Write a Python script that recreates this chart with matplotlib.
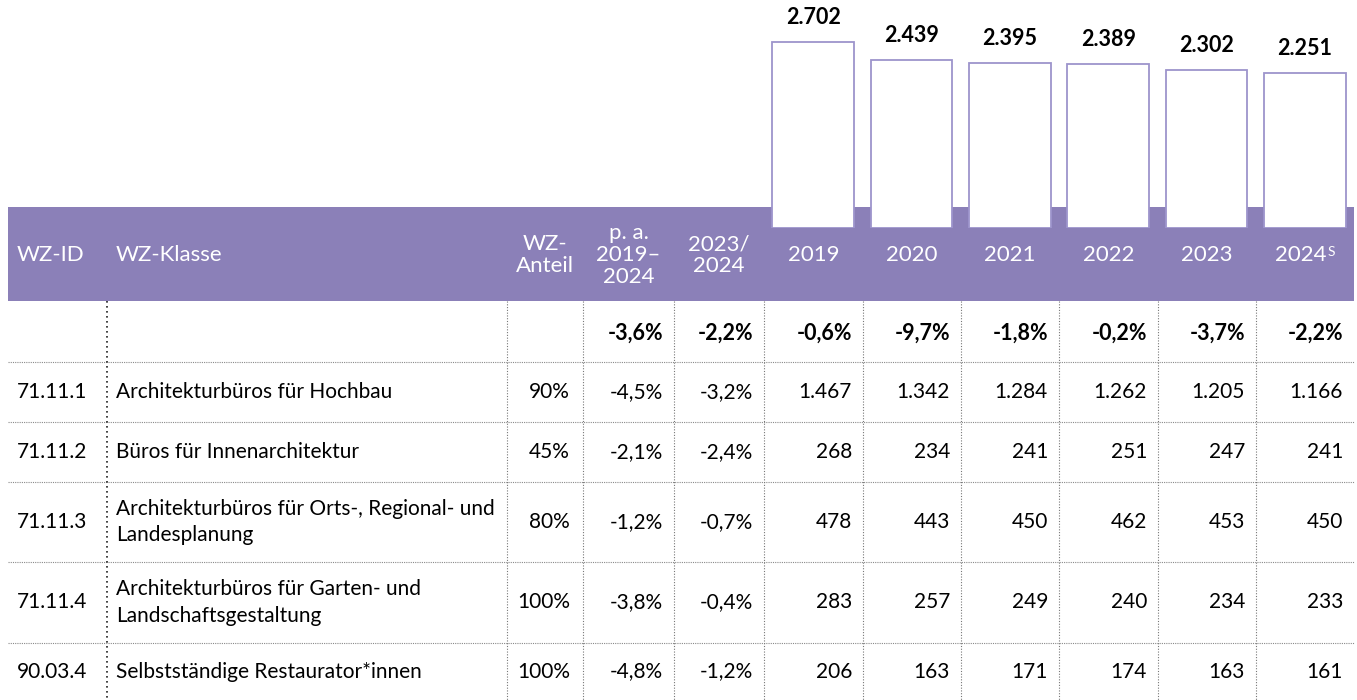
import matplotlib.pyplot as plt

plt.rcParams['font.family'] = ['Lato', 'DejaVu Sans']

# --- data ---
ids = ["71.11.1", "71.11.2", "71.11.3", "71.11.4", "90.03.4"]
klassen = ["Architekturbüros für Hochbau",
           "Büros für Innenarchitektur",
           "Architekturbüros für Orts-, Regional- und\nLandesplanung",
           "Architekturbüros für Garten- und\nLandschaftsgestaltung",
           "Selbstständige Restaurator*innen"]
anteil = ["90%", "45%", "80%", "100%", "100%"]
pa_growth = ["-4,5%", "-2,1%", "-1,2%", "-3,8%", "-4,8%"]
yoy_growth = ["-3,2%", "-2,4%", "-0,7%", "-0,4%", "-1,2%"]
values = [[1467, 1342, 1284, 1262, 1205, 1166],
          [268, 234, 241, 251, 247, 241],
          [478, 443, 450, 462, 453, 450],
          [283, 257, 249, 240, 234, 233],
          [206, 163, 171, 174, 163, 161]]

years = ["2019", "2020", "2021", "2022", "2023", "2024"]
year_marks = ["", "", "", "", "", "S"]
totals = [2702, 2439, 2395, 2389, 2302, 2251]
total_growth = ["-0,6%", "-9,7%", "-1,8%", "-0,2%", "-3,7%", "-2,2%"]
total_pa = "-3,6%"
total_yoy = "-2,2%"

header_left = ["WZ-ID", "WZ-Klasse"]
header_mid = ["WZ-\nAnteil", "p. a.\n2019–\n2024", "2023/\n2024"]

# --- layout (pixels) ---
W, H = 1357, 700
col_edges = [8, 107, 507, 583, 674, 764, 863, 961, 1059, 1158, 1256, 1354]
row_edges = [207, 301, 362, 422, 482, 562, 643, 700]
purple = '#8b80b8'
bar_edge = '#9d94cc'
pad = 11


def fmt(v):
    return f"{v:,}".replace(",", ".")


fig = plt.figure(figsize=(W / 100, H / 100), dpi=100)
ax = fig.add_axes([0, 0, 1, 1])
ax.set_xlim(0, W)
ax.set_ylim(H, 0)
ax.axis('off')

# header band
ax.axhspan(row_edges[0], row_edges[1], xmin=col_edges[0] / W, xmax=col_edges[-1] / W,
           color=purple, lw=0, zorder=1)
hy = (row_edges[0] + row_edges[1]) / 2 + 1
hkw = dict(color='white', fontsize=16, va='center', zorder=3)
ax.text(col_edges[0] + 9, hy, header_left[0], ha='left', **hkw)
ax.text(col_edges[1] + 9, hy, header_left[1], ha='left', **hkw)
for i, lab in enumerate(header_mid):
    cx = (col_edges[2 + i] + col_edges[3 + i]) / 2
    ax.text(cx, hy, lab, ha='center', linespacing=1.12, **hkw)
for i, lab in enumerate(years):
    cx = (col_edges[5 + i] + col_edges[6 + i]) / 2
    if year_marks[i]:
        t = ax.text(cx - 4, hy, lab, ha='center', **hkw)
        ax.annotate(year_marks[i], xy=(1, 1), xycoords=t, xytext=(0.3, -1),
                    textcoords='offset points', ha='left', va='top',
                    color='white', fontsize=10, zorder=3)
    else:
        ax.text(cx, hy, lab, ha='center', **hkw)

# grid lines
for y in row_edges[2:-1]:
    ax.plot([col_edges[0], col_edges[-1]], [y, y], color='#8a8a8a', lw=0.8,
            ls=(0, (1, 1)), zorder=2)
for i, x in enumerate(col_edges[1:-1]):
    if i == 0:
        ax.plot([x, x], [row_edges[1], H], color='#222222', lw=1.2, ls=(0, (1, 2)), zorder=2)
    else:
        ax.plot([x, x], [row_edges[1], H], color='#777777', lw=0.8, ls=(0, (1, 1.5)), zorder=2)

# total row
ty = (row_edges[1] + row_edges[2]) / 2 + 2
ax.text(col_edges[4] - pad, ty, total_pa, fontsize=15.5, fontweight='bold', ha='right', va='center')
ax.text(col_edges[5] - pad, ty, total_yoy, fontsize=15.5, fontweight='bold', ha='right', va='center')
for j, g in enumerate(total_growth):
    ax.text(col_edges[6 + j] - pad, ty, g, fontsize=15.5, fontweight='bold', ha='right', va='center')

# data rows
fs = 15
for r in range(len(ids)):
    y = (row_edges[2 + r] + row_edges[3 + r]) / 2
    ax.text(col_edges[0] + 9, y, ids[r], fontsize=fs, ha='left', va='center')
    ax.text(col_edges[1] + 9, y, klassen[r], fontsize=fs, ha='left', va='center',
            linespacing=1.4)
    ax.text(col_edges[3] - pad - 2, y, anteil[r], fontsize=fs, ha='right', va='center')
    ax.text(col_edges[4] - pad, y, pa_growth[r], fontsize=fs, ha='right', va='center')
    ax.text(col_edges[5] - pad, y, yoy_growth[r], fontsize=fs, ha='right', va='center')
    for j, v in enumerate(values[r]):
        ax.text(col_edges[6 + j] - pad, y, fmt(v), fontsize=fs, ha='right', va='center')

# bars for totals
base_px = 228
bx = fig.add_axes([col_edges[5] / W, 1 - base_px / H,
                   (col_edges[-1] - col_edges[5]) / W, base_px / H])
bx.patch.set_alpha(0)
bx.axis('off')
bars = bx.bar(range(len(totals)), totals, width=0.83, color='white',
              edgecolor=bar_edge, lw=1.3)
bx.set_xlim(-0.5, len(totals) - 0.5)
bx.set_ylim(0, base_px / 0.0688)
bx.bar_label(bars, labels=[fmt(v) for v in totals], padding=10,
             fontsize=15.5, fontweight='bold')

fig.savefig('out.png', dpi=100)
